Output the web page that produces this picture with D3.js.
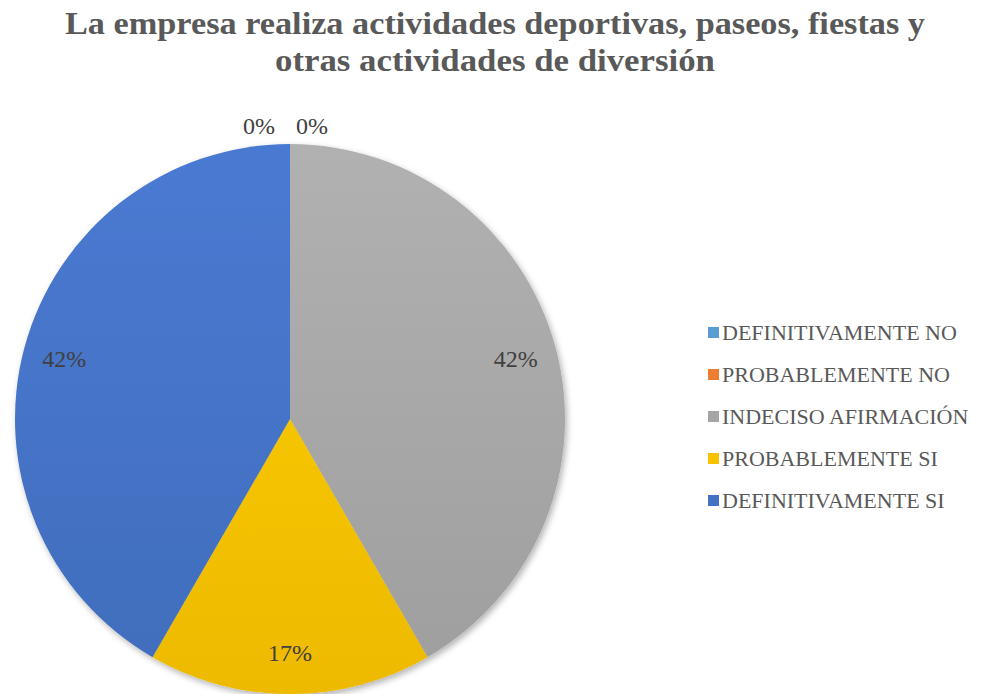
<!DOCTYPE html>
<html>
<head>
<meta charset="utf-8">
<script src="https://cdn.jsdelivr.net/npm/d3@7"></script>
<style>
  body { margin: 0; background: #fff; }
  svg { display: block; }
  .serif { font-family: "Liberation Serif", "Times New Roman", "DejaVu Serif", serif; }
</style>
</head>
<body>
<svg width="984" height="694"></svg>
<script>
// datos del gráfico
var categories = ["DEFINITIVAMENTE NO", "PROBABLEMENTE NO", "INDECISO AFIRMACIÓN", "PROBABLEMENTE SI", "DEFINITIVAMENTE SI"];
var values = [0, 0, 5, 2, 5];
var labels = ["0%", "0%", "42%", "17%", "42%"];
var colors = ["#5B9BD5", "#ED7D31", "#A5A5A5", "#F7C200", "#4472C4"];
var titleLines = ["La empresa realiza  actividades deportivas, paseos, fiestas y", "otras actividades de diversión"];
var titleWidths = [860, 440];

var svg = d3.select("svg"),
    width = +svg.attr("width"),
    height = +svg.attr("height");

var cx = 290, cy = 419, radius = 275;

// degradado vertical suave para cada sector (coordenadas relativas al centro)
var defs = svg.append("defs");
colors.forEach(function(c, i) {
  var g = defs.append("linearGradient")
      .attr("id", "grad" + i)
      .attr("gradientUnits", "userSpaceOnUse")
      .attr("x1", 0).attr("y1", -radius)
      .attr("x2", 0).attr("y2", radius);
  g.append("stop").attr("offset", "0%").attr("stop-color", d3.color(c).brighter(0.2));
  g.append("stop").attr("offset", "100%").attr("stop-color", d3.color(c).darker(0.12));
});
var sh = defs.append("filter").attr("id", "shadow").attr("x", "-10%").attr("y", "-10%").attr("width", "120%").attr("height", "120%");
sh.append("feDropShadow").attr("dx", 2).attr("dy", 3).attr("stdDeviation", 3).attr("flood-color", "#000").attr("flood-opacity", 0.3);

// título
svg.append("g").selectAll("text")
    .data(titleLines)
    .enter().append("text")
    .attr("class", "serif")
    .attr("x", 495)
    .attr("y", function(d, i) { return 34 + i * 37; })
    .attr("text-anchor", "middle")
    .attr("font-weight", "bold")
    .attr("font-size", 31)
    .attr("textLength", function(d, i) { return titleWidths[i]; })
    .attr("lengthAdjust", "spacingAndGlyphs")
    .attr("fill", "#595959")
    .text(function(d) { return d; });

var pie = d3.pie().sort(null).value(function(d) { return d; });
var arc = d3.arc().innerRadius(0).outerRadius(radius);
var labelArc = d3.arc().innerRadius(radius * 0.85).outerRadius(radius * 0.85);
var arcs = pie(values);

var g = svg.append("g").attr("transform", "translate(" + cx + "," + cy + ")");

g.append("g").attr("filter", "url(#shadow)")
  .selectAll("path")
    .data(arcs)
    .enter().append("path")
    .attr("d", arc)
    .attr("fill", function(d, i) { return "url(#grad" + i + ")"; });

// etiquetas de datos (los 0% van fuera, arriba)
var zeroOffsets = [-31, 22];
g.selectAll("text.lbl")
    .data(arcs)
    .enter().append("text")
    .attr("class", "lbl serif")
    .attr("transform", function(d, i) {
      if (d.value === 0) return "translate(" + zeroOffsets[i] + "," + (-radius - 18) + ")";
      var p = labelArc.centroid(d);
      return "translate(" + p[0] + "," + p[1] + ")";
    })
    .attr("dy", "0.35em")
    .attr("text-anchor", "middle")
    .attr("font-size", 24)
    .attr("fill", "#404040")
    .text(function(d, i) { return labels[i]; });

// leyenda
var legend = svg.append("g").attr("transform", "translate(708,332)");
var item = legend.selectAll("g")
    .data(categories)
    .enter().append("g")
    .attr("transform", function(d, i) { return "translate(0," + (i * 42) + ")"; });
item.append("rect")
    .attr("x", 0).attr("y", -5)
    .attr("width", 11).attr("height", 11)
    .attr("fill", function(d, i) { return colors[i]; });
item.append("text")
    .attr("class", "serif")
    .attr("x", 14)
    .attr("dy", "0.38em")
    .attr("font-size", 22)
    .attr("fill", "#595959")
    .text(function(d) { return d; });
</script>
</body>
</html>
